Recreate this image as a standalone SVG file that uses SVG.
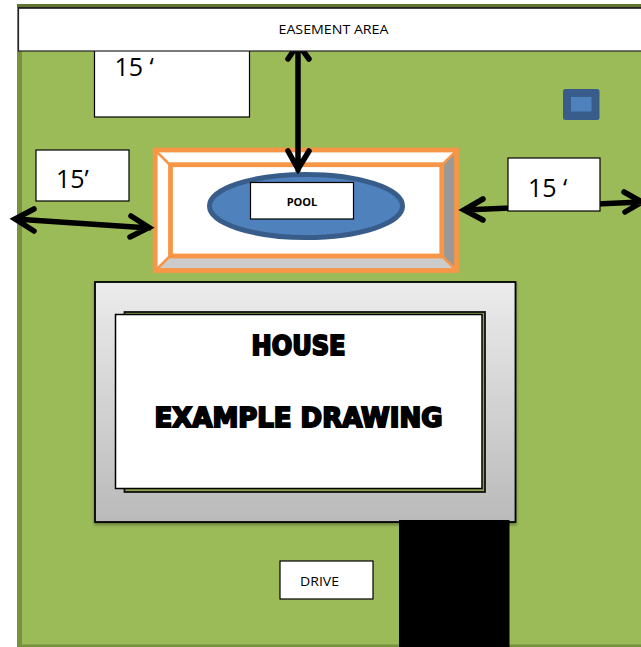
<svg xmlns="http://www.w3.org/2000/svg" width="641" height="647" viewBox="0 0 641 647">
<style>
.box{fill:#fff;stroke:#000;stroke-width:1.2}
.lbl{font-family:"Open Sans","Liberation Sans",sans-serif;fill:#000}
.big{font-size:25px}
.hv{font-family:"DejaVu Sans",sans-serif;font-weight:bold;fill:#000;stroke:#000;stroke-width:2;text-anchor:middle}
.ar{fill:none;stroke:#000;stroke-width:5.5;stroke-linecap:round;stroke-linejoin:miter}
.or{stroke:#f79646;stroke-width:4.8;fill:none}
</style>
<defs>
<linearGradient id="g" x1="0" y1="0" x2="0" y2="1"><stop offset="0" stop-color="#ececec"/><stop offset="1" stop-color="#bababa"/></linearGradient>
<filter id="s" x="-5%" y="-5%" width="110%" height="110%"><feDropShadow dx="0" dy="2" stdDeviation="1.5" flood-color="#000" flood-opacity="0.35"/></filter>
</defs>
<rect width="641" height="647" fill="#fff"/>
<g id="lot">
<rect x="17" y="4" width="624" height="643" fill="#9bbb59"/>
<rect x="17" y="4" width="5" height="643" fill="#76923c"/>
<rect x="17" y="644.5" width="624" height="2.5" fill="#76923c"/>
<rect x="17" y="4" width="624" height="4" fill="#5f7530"/>
</g>
<g id="top-dimension">
<rect class="box" x="94.500" y="45" width="155" height="72"/>
<text class="lbl big" x="114.500" y="76">15 ‘</text>
</g>
<g id="pool">
<rect x="155.200" y="150" width="301.300" height="120.500" fill="#fff"/>
<polygon points="442,165 456.500,150 456.500,270.500 442,256" fill="#999"/>
<polygon points="155.200,270.500 170.500,256 442,256 456.500,270.500" fill="#ccc"/>
<path d="M156 151L170 165M456 151L442 165M156 270L170 256M456 270L442 256" stroke="#f79646" stroke-width="2.500"/>
<rect class="or" x="155.200" y="150" width="301.300" height="120.500"/>
<rect class="or" x="170.500" y="164.700" width="271.300" height="91.300"/>
<ellipse cx="306" cy="206" rx="96.500" ry="31.500" fill="#4f81bd" stroke="#385d8a" stroke-width="5"/>
<rect class="box" x="250.500" y="182.500" width="103" height="36.500"/>
<text class="lbl" x="302" y="206" font-size="11" font-weight="bold" text-anchor="middle">POOL</text>
</g>
<g id="connectors">
<path class="ar" d="M298 44V170M288 59L298 44L309 59M288 151L298 169L309 151"/>
<path class="ar" d="M15 219L149 228M34 209L15 219L34 231M131 216L149 227.500L130 237"/>
<path class="ar" d="M464 210L641 202M483 199L464 210L483 220M624 192L642 202L625 212"/>
</g>
<g id="easement">
<rect x="18.500" y="8" width="640" height="43" fill="#fff" stroke="#222" stroke-width="1.200"/>
<rect x="18" y="7" width="623" height="1.600" fill="#222"/>
<text class="lbl" x="333.500" y="34" font-size="13.500" text-anchor="middle" textLength="110" lengthAdjust="spacingAndGlyphs">EASEMENT AREA</text>
</g>
<g id="shed">
<rect x="563" y="89" width="36.500" height="31" rx="2.500" fill="#385d8a"/>
<rect x="571" y="97" width="20.500" height="14.500" fill="#4f81bd"/>
</g>
<g id="left-dimension">
<rect class="box" x="36" y="150" width="93" height="51"/>
<text class="lbl" x="56" y="188" font-size="25">15’</text>
</g>
<g id="right-dimension">
<rect class="box" x="508" y="158" width="92" height="53"/>
<text class="lbl big" x="528" y="196.500">15 ‘</text>
</g>
<g id="house">
<rect x="95" y="282" width="420.500" height="240" fill="url(#g)" stroke="#000" stroke-width="1.800" filter="url(#s)"/>
<rect x="124.500" y="312" width="360.500" height="180" fill="#8aa14f" stroke="#111" stroke-width="1.800"/>
<rect x="115.500" y="314.500" width="366.500" height="174" fill="#fff" stroke="#000" stroke-width="1.500"/>
<text class="hv" x="298.500" y="355" font-size="26" textLength="94" lengthAdjust="spacingAndGlyphs">HOUSE</text>
<text class="hv" x="298.500" y="427" font-size="26" textLength="288" lengthAdjust="spacingAndGlyphs">EXAMPLE DRAWING</text>
</g>
<g id="drive">
<rect x="399" y="520" width="110.500" height="127" fill="#000"/>
<rect class="box" x="280" y="561" width="93" height="38"/>
<text class="lbl" x="300" y="586" font-size="13.500" textLength="39" lengthAdjust="spacingAndGlyphs">DRIVE</text>
</g>
</svg>
